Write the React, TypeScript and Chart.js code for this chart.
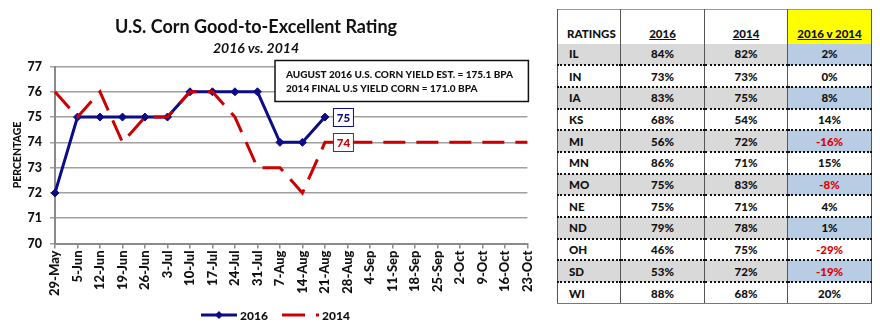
import React, { useEffect, useRef } from "react";
import { Chart, registerables } from "chart.js";

Chart.register(...registerables);

// ---------- chart data ----------
const WEEKS = [
  "29-May", "5-Jun", "12-Jun", "19-Jun", "26-Jun", "3-Jul", "10-Jul", "17-Jul",
  "24-Jul", "31-Jul", "7-Aug", "14-Aug", "21-Aug", "28-Aug", "4-Sep", "11-Sep",
  "18-Sep", "25-Sep", "2-Oct", "9-Oct", "16-Oct", "23-Oct",
];
const RATING_2016 = [72, 75, 75, 75, 75, 75, 76, 76, 76, 76, 74, 74, 75];
const RATING_2014 = [76, 75, 76, 74, 75, 75, 76, 76, 75, 73, 73, 72, 74, 74, 74, 74, 74, 74, 74, 74, 74, 74];
const SERIES_NAMES = ["2016", "2014"];
const Y_MIN = 70;
const Y_MAX = 77;
const Y_STEP = 1;
const Y_TITLE = "PERCENTAGE";
const TITLE = "U.S. Corn Good-to-Excellent Rating";
const SUBTITLE = "2016 vs. 2014";
const NOTE_LINES = [
  "AUGUST 2016 U.S. CORN YIELD EST. = 175.1 BPA",
  "2014 FINAL U.S YIELD CORN = 171.0 BPA",
];

// ---------- table data ----------
const TABLE_HEADERS = ["RATINGS", "2016", "2014", "2016 v 2014"];
const STATES = ["IL", "IN", "IA", "KS", "MI", "MN", "MO", "NE", "ND", "OH", "SD", "WI"];
const STATE_2016 = [84, 73, 83, 68, 56, 86, 75, 75, 79, 46, 53, 88];
const STATE_2014 = [82, 73, 75, 54, 72, 71, 83, 71, 78, 75, 72, 68];

const NAVY = "#0c0c86";
const RED = "#cc0000";
const FONT = "Lato, 'Open Sans', sans-serif";

function valueBox(ctx: CanvasRenderingContext2D, x: number, y: number, text: string, color: string) {
  const w = 20;
  const h = 18;
  ctx.save();
  ctx.fillStyle = "#ffffff";
  ctx.fillRect(x, y - h / 2, w, h);
  ctx.strokeStyle = color;
  ctx.lineWidth = 1;
  ctx.strokeRect(x + 0.5, Math.round(y - h / 2) + 0.5, w, h);
  ctx.fillStyle = color;
  ctx.font = `900 11.5px ${FONT}`;
  ctx.textAlign = "center";
  ctx.textBaseline = "middle";
  ctx.fillText(text, x + w / 2 + 0.5, y + 1);
  ctx.restore();
}

const overlayPlugin = {
  id: "overlay",
  afterDatasetsDraw(chart: any) {
    const ctx = chart.ctx as CanvasRenderingContext2D;
    const xs = chart.scales.x;
    const ys = chart.scales.y;
    const last = RATING_2016.length - 1;
    const px = xs.getPixelForValue(last);
    valueBox(ctx, px + 8, ys.getPixelForValue(RATING_2016[last]), String(RATING_2016[last]), NAVY);
    valueBox(ctx, px + 8, ys.getPixelForValue(RATING_2014[last]), String(RATING_2014[last]), RED);
  },
  afterDraw(chart: any) {
    const ctx = chart.ctx as CanvasRenderingContext2D;
    const ca = chart.chartArea;
    ctx.save();
    // title + subtitle
    ctx.fillStyle = "#111";
    ctx.textAlign = "center";
    ctx.textBaseline = "middle";
    ctx.font = `bold 18px ${FONT}`;
    ctx.fillText(TITLE, 256, 27);
    ctx.font = `italic bold 14px ${FONT}`;
    ctx.fillText(SUBTITLE, 256, 48);

    // note box
    const bx = ca.left + 220;
    const by = ca.top - 6;
    const bw = ca.right + 1 - bx;
    const bh = 41;
    ctx.fillStyle = "#fff";
    ctx.fillRect(bx, by, bw, bh);
    ctx.strokeStyle = "#111";
    ctx.lineWidth = 1.5;
    ctx.strokeRect(bx, by, bw, bh);
    ctx.fillStyle = "#111";
    ctx.textAlign = "left";
    ctx.font = `900 10px ${FONT}`;
    ctx.fillText(NOTE_LINES[0], bx + 11, by + 14);
    ctx.fillText(NOTE_LINES[1], bx + 11, by + 28);

    // legend
    const ly = 315;
    ctx.lineWidth = 3;
    ctx.strokeStyle = NAVY;
    ctx.beginPath();
    ctx.moveTo(201, ly);
    ctx.lineTo(237, ly);
    ctx.stroke();
    ctx.fillStyle = NAVY;
    ctx.beginPath();
    ctx.moveTo(219, ly - 4);
    ctx.lineTo(223, ly);
    ctx.lineTo(219, ly + 4);
    ctx.lineTo(215, ly);
    ctx.closePath();
    ctx.fill();
    ctx.strokeStyle = RED;
    ctx.beginPath();
    ctx.moveTo(282, ly);
    ctx.lineTo(305, ly);
    ctx.stroke();
    ctx.fillStyle = RED;
    ctx.fillRect(316, ly - 1.5, 3, 3);
    ctx.fillStyle = "#111";
    ctx.font = `900 12px ${FONT}`;
    ctx.textAlign = "left";
    ctx.fillText(SERIES_NAMES[0], 240, ly + 1);
    ctx.fillText(SERIES_NAMES[1], 322, ly + 1);
    ctx.restore();
  },
};

function CornChart() {
  const ref = useRef<HTMLCanvasElement | null>(null);
  useEffect(() => {
    if (!ref.current) return;
    const chart = new Chart(ref.current, {
      type: "line",
      data: {
        labels: WEEKS,
        datasets: [
          {
            label: SERIES_NAMES[0],
            data: RATING_2016,
            borderColor: NAVY,
            backgroundColor: NAVY,
            borderWidth: 3,
            pointStyle: "rectRot",
            pointRadius: 4,
            pointBackgroundColor: NAVY,
            pointBorderColor: NAVY,
            pointBorderWidth: 1,
            tension: 0,
            order: 1,
          },
          {
            label: SERIES_NAMES[1],
            data: RATING_2014,
            borderColor: RED,
            backgroundColor: RED,
            borderWidth: 3,
            borderDash: [22, 11],
            borderCapStyle: "butt",
            pointRadius: 0,
            tension: 0,
            order: 0,
          },
        ],
      },
      plugins: [overlayPlugin],
      options: {
        animation: false,
        responsive: false,
        devicePixelRatio: 1,
        layout: { padding: { top: 66.5, right: 14, bottom: 27.5, left: 0 } },
        plugins: {
          legend: { display: false },
          tooltip: { enabled: false },
          title: { display: false },
        },
        scales: {
          x: {
            offset: false,
            afterFit: (s: any) => {
              s.height = 60;
            },
            grid: {
              display: true,
              drawOnChartArea: false,
              drawTicks: true,
              tickLength: 5,
              color: "#8a8a8a",
              lineWidth: 1.5,
            },
            border: { display: true, color: "#8a8a8a", width: 2 },
            ticks: {
              autoSkip: false,
              maxRotation: 90,
              minRotation: 90,
              padding: 2,
              color: "#111",
              font: { family: FONT, size: 13, weight: "900" },
            },
          },
          y: {
            min: Y_MIN,
            max: Y_MAX,
            afterFit: (s: any) => {
              s.width = 55;
            },
            grid: {
              color: "#a0a0a0",
              lineWidth: 1.5,
              drawTicks: true,
              tickLength: 5,
            },
            border: { display: true, color: "#8a8a8a", width: 2 },
            ticks: {
              stepSize: Y_STEP,
              padding: 8,
              color: "#111",
              font: { family: FONT, size: 12.5, weight: "900" },
            },
            title: {
              display: true,
              text: Y_TITLE,
              color: "#111",
              font: { family: FONT, size: 10.5, weight: "900" },
              padding: { top: 11, bottom: 0 },
            },
          },
        },
      },
    } as any);
    return () => chart.destroy();
  }, []);
  return <canvas ref={ref} width={545} height={331} style={{ position: "absolute", left: 0, top: 0, width: 545, height: 331 }} />;
}

function RatingsTable() {
  const colW = [63, 84, 83, 84];
  const cellBase: React.CSSProperties = {
    padding: 0,
    fontFamily: FONT,
    fontWeight: 900,
    fontSize: 11.5,
    color: "#111",
    borderLeft: "1px solid #555",
    borderRight: "1px solid #555",
  };
  return (
    <table
      style={{
        position: "absolute",
        left: 557,
        top: 9,
        width: 314,
        borderCollapse: "collapse",
        tableLayout: "fixed",
        borderTop: "1px solid #999",
      }}
    >
      <colgroup>
        {colW.map((w, i) => (
          <col key={i} style={{ width: w }} />
        ))}
      </colgroup>
      <thead>
        <tr style={{ height: 34 }}>
          {TABLE_HEADERS.map((h, i) => (
            <th
              key={h}
              style={{
                ...cellBase,
                verticalAlign: "bottom",
                paddingBottom: 4,
                textAlign: i === 0 ? "left" : "center",
                paddingLeft: i === 0 ? 9 : 0,
                background: i === 3 ? "#ffff00" : "#fff",
                textDecoration: i === 0 ? "none" : "underline",
              }}
            >
              {h}
            </th>
          ))}
        </tr>
      </thead>
      <tbody>
        {STATES.map((s, r) => {
          const diff = STATE_2016[r] - STATE_2014[r];
          const shaded = r % 2 === 0;
          const lastRow = r === STATES.length - 1;
          const rowBorder = lastRow ? "1px solid #777" : "2px dotted #111";
          const bg = shaded ? "#d9d9d9" : "#fff";
          const cells = [s, `${STATE_2016[r]}%`, `${STATE_2014[r]}%`, `${diff}%`];
          return (
            <tr key={s} style={{ height: 21.7 }}>
              {cells.map((c, i) => (
                <td
                  key={i}
                  style={{
                    ...cellBase,
                    borderBottom: rowBorder,
                    textAlign: i === 0 ? "left" : "center",
                    paddingLeft: i === 0 ? 11 : 0,
                    background: i === 3 ? (shaded ? "#b8cce4" : "#fff") : bg,
                    color: i === 3 && diff < 0 ? "#e00000" : "#111",
                  }}
                >
                  {c}
                </td>
              ))}
            </tr>
          );
        })}
      </tbody>
    </table>
  );
}

export default function App() {
  return (
    <div style={{ position: "relative", width: 880, height: 331, background: "#fff", overflow: "hidden" }}>
      <style>{"body{margin:0;background:#fff}"}</style>
      <CornChart />
      <RatingsTable />
    </div>
  );
}
